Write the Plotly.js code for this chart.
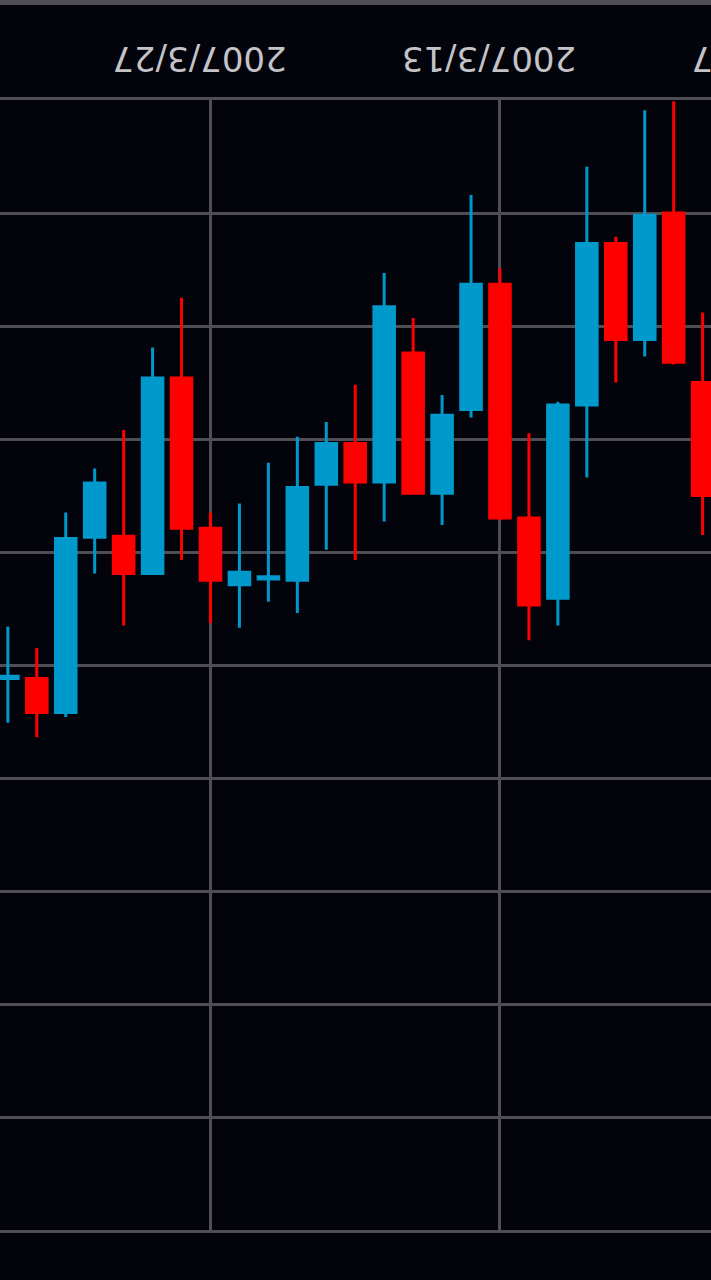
<!DOCTYPE html>
<html>
<head>
<meta charset="utf-8">
<script src="https://cdn.plot.ly/plotly-3.0.1.min.js"></script>
<style>
  html, body { margin: 0; padding: 0; background: #03030c; overflow: hidden; }
  #frame { position: absolute; left: 0; top: 0; width: 711px; height: 1280px; overflow: hidden;
           transform: rotate(180deg); transform-origin: 50% 50%; background: #03030c; }
  #chart { position: absolute; left: -100px; top: 0; width: 911px; height: 1280px; }
</style>
</head>
<body>
<div id="frame"><div id="chart"></div></div>
<script>
// Trading days (chronological)
const dates = ['2007-03-02','2007-03-05','2007-03-06','2007-03-07','2007-03-08','2007-03-09',
               '2007-03-12','2007-03-13','2007-03-14','2007-03-15','2007-03-16',
               '2007-03-19','2007-03-20','2007-03-21','2007-03-22','2007-03-23',
               '2007-03-26','2007-03-27','2007-03-28','2007-03-29','2007-03-30',
               '2007-04-02','2007-04-03','2007-04-04','2007-04-05'];
const openVals  = [16750,16632,16502,16612,16527,16670,16847,16770,16563,16679,16748,16583,16738,
                   16704,16743,16822,16818,16825,16779,16646,16819,16739,16788,16942,16910];
const highVals  = [16785,16634,16627,16650,16734,16865,16878,16772,16681,16776,16748,16773,16807,
                   16798,16854,16844,16867,16863,16807,16820,16865,16819,16946,16964,16951];
const lowVals   = [16588,16401,16409,16521,16459,16667,16695,16549,16484,16661,16593,16553,16652,
                   16685,16698,16721,16757,16765,16575,16619,16692,16726,16765,16885,16866];
const closeVals = [16650,16500,16612,16527,16670,16841,16770,16563,16674,16748,16624,16738,16704,
                   16740,16825,16824,16829,16779,16646,16819,16786,16787,16942,16912,16912];

// Date-axis ticks (the first one is only partly inside the view, as in the reference)
const tickDates  = ['2007-02-27','2007-03-13','2007-03-27'];
const tickLabels = ['2007/2/27','2007/3/13','2007/3/27'];

const atNoon = d => d + ' 12:00';

const trace = {
  type: 'candlestick',
  x: dates.map(atNoon),
  open: openVals, high: highVals, low: lowVals, close: closeVals,
  increasing: { line: { color: '#0099cc', width: 3 }, fillcolor: '#0099cc' },
  decreasing: { line: { color: '#ff0000', width: 3 }, fillcolor: '#ff0000' },
  whiskerwidth: 0,
  hoverinfo: 'none',
  showlegend: false
};

const gridCol = '#4e4e54';
const layout = {
  width: 911, height: 1280,
  margin: { l: 0, r: 0, t: 50, b: 100, pad: 0 },
  paper_bgcolor: '#03030c',
  plot_bgcolor: '#03030c',
  boxgap: 0.29, boxgroupgap: 0,
  showlegend: false,
  xaxis: {
    type: 'date',
    range: ['2007-02-26 18:10', '2007-04-11 05:24'],
    rangebreaks: [{ bounds: ['sat', 'mon'] }],
    rangeslider: { visible: false },
    tickmode: 'array',
    tickvals: tickDates.map(atNoon),
    ticktext: tickLabels,
    ticks: '',
    showgrid: true, gridcolor: gridCol, gridwidth: 3,
    showline: true, mirror: true, linecolor: gridCol, linewidth: 3,
    zeroline: false,
    tickfont: { family: 'DejaVu Sans', size: 34, color: '#c4c4c8' },
    ticklabeloverflow: 'allow',
    ticklabelshift: 11,
    ticklabelstandoff: 9
  },
  yaxis: {
    range: [16400, 17400],
    dtick: 100, tick0: 16400,
    showticklabels: false, ticks: '',
    showgrid: true, gridcolor: gridCol, gridwidth: 3,
    showline: false, zeroline: false
  },
  shapes: [{
    type: 'line', xref: 'paper', yref: 'paper',
    x0: 0, x1: 1, y0: -0.0863, y1: -0.0863,
    line: { color: gridCol, width: 5 }
  }]
};

Plotly.newPlot('chart', [trace], layout, { staticPlot: true, displayModeBar: false });
</script>
</body>
</html>
